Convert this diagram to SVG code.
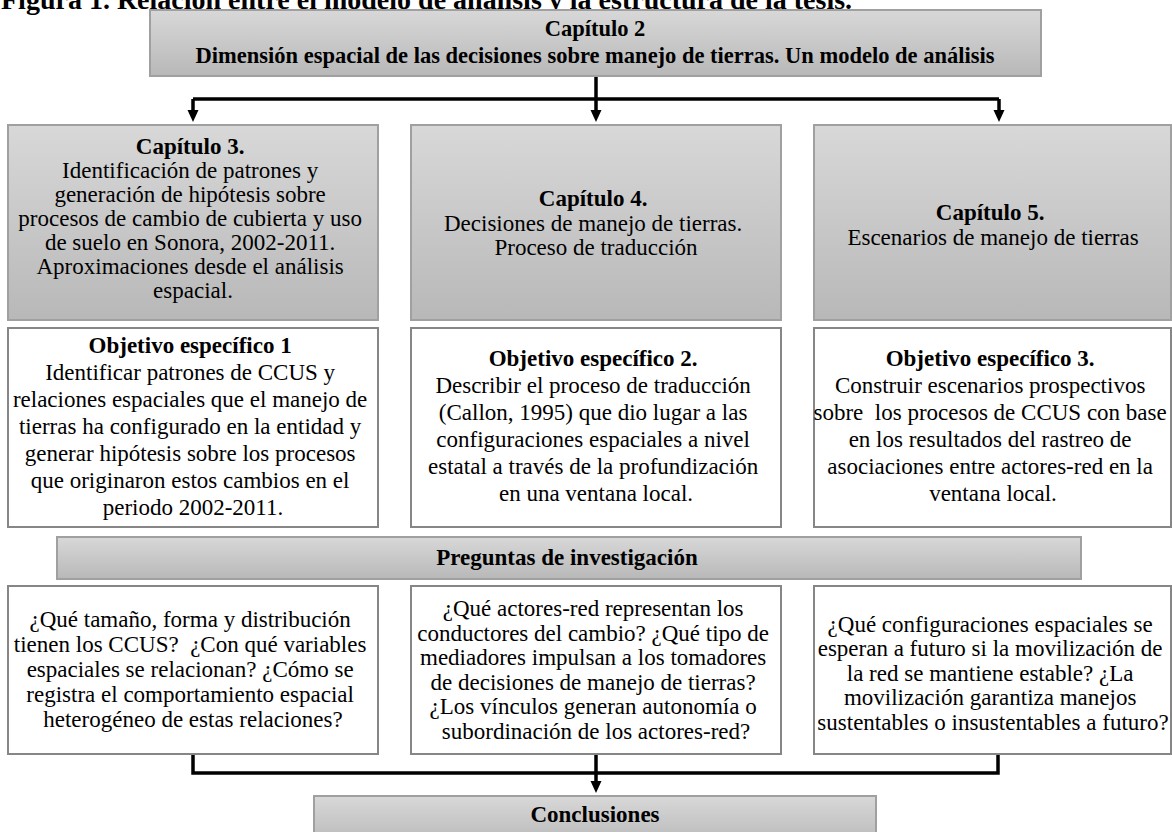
<svg xmlns="http://www.w3.org/2000/svg" width="1172" height="832" viewBox="0 0 1172 832">
<style>
.t{font-family:"Liberation Serif","Times New Roman",serif;font-size:23px;fill:#000;text-anchor:middle}
.b{font-weight:bold}
.g{fill:url(#grad);stroke:#a0a0a0;stroke-width:2}
.w{fill:#fff;stroke:#868686;stroke-width:2}
.c{fill:none;stroke:#000;stroke-width:3.5;stroke-linejoin:miter}
.a{marker-end:url(#ah)}
</style>
<defs>
<linearGradient id="grad" x1="0" y1="0" x2="0" y2="1">
<stop offset="0" stop-color="#d8d8d8"/>
<stop offset="1" stop-color="#b8b8b8"/>
</linearGradient>
<marker id="ah" markerUnits="userSpaceOnUse" markerWidth="12" markerHeight="12" viewBox="0 0 12 12" refX="0" refY="6" orient="auto">
<path d="M0,0.5 L12,6 L0,11.5 z" fill="#000"/>
</marker>
</defs>
<rect width="1172" height="832" fill="#fff"/>
<text class="t b" x="1" y="9" style="text-anchor:start;font-size:28px">Figura 1. Relación entre el modelo de análisis y la estructura de la tesis.</text>

<g id="connectors">
<path class="c a" d="M596,76 V110"/>
<path class="c" d="M193,99 H999"/>
<path class="c a" d="M193,99 V110"/>
<path class="c a" d="M999,99 V110"/>
<path class="c" d="M193,754 V773 H998 V754"/>
<path class="c a" d="M596,754 V781"/>
</g>

<g id="cap2">
<rect class="g" x="150" y="10" width="891" height="66"/>
<text class="t b" style="font-size:22.5px" x="595" y="36">Capítulo 2</text>
<text class="t b" style="font-size:22.5px" x="595" y="63">Dimensión espacial de las decisiones sobre manejo de tierras. Un modelo de análisis</text>
</g>

<g id="cap3">
<rect class="g" x="8" y="125" width="370" height="195"/>
<text class="t" x="193">
<tspan class="b" x="193" y="154">Capítulo 3.</tspan>
<tspan x="193" y="178">Identificación de patrones y</tspan>
<tspan x="193" y="202">generación de hipótesis sobre</tspan>
<tspan x="193" y="226">procesos de cambio de cubierta y uso</tspan>
<tspan x="193" y="250">de suelo en Sonora, 2002-2011.</tspan>
<tspan x="193" y="274">Aproximaciones desde el análisis</tspan>
<tspan x="193" y="298">espacial.</tspan>
</text>
</g>

<g id="cap4">
<rect class="g" x="411" y="125" width="370" height="195"/>
<text class="t" x="596">
<tspan class="b" x="596" y="206">Capítulo 4.</tspan>
<tspan x="596" y="230.5">Decisiones de manejo de tierras.</tspan>
<tspan x="596" y="255">Proceso de traducción</tspan>
</text>
</g>

<g id="cap5">
<rect class="g" x="814" y="125" width="357" height="195"/>
<text class="t" x="993">
<tspan class="b" x="993" y="220">Capítulo 5.</tspan>
<tspan x="993" y="244.5">Escenarios de manejo de tierras</tspan>
</text>
</g>

<g id="obj1">
<rect class="w" x="8" y="328" width="370" height="199"/>
<text class="t" x="193">
<tspan class="b" x="193" y="353">Objetivo específico 1</tspan>
<tspan x="193" y="380">Identificar patrones de CCUS y</tspan>
<tspan x="193" y="407">relaciones espaciales que el manejo de</tspan>
<tspan x="193" y="434">tierras ha configurado en la entidad y</tspan>
<tspan x="193" y="461">generar hipótesis sobre los procesos</tspan>
<tspan x="193" y="488">que originaron estos cambios en el</tspan>
<tspan x="193" y="515">periodo 2002-2011.</tspan>
</text>
</g>

<g id="obj2">
<rect class="w" x="411" y="328" width="370" height="199"/>
<text class="t" x="596">
<tspan class="b" x="596" y="366">Objetivo específico 2.</tspan>
<tspan x="596" y="393">Describir el proceso de traducción</tspan>
<tspan x="596" y="420">(Callon, 1995) que dio lugar a las</tspan>
<tspan x="596" y="447">configuraciones espaciales a nivel</tspan>
<tspan x="596" y="474">estatal a través de la profundización</tspan>
<tspan x="596" y="501">en una ventana local.</tspan>
</text>
</g>

<g id="obj3">
<rect class="w" x="814" y="328" width="357" height="199"/>
<text class="t" x="993">
<tspan class="b" x="993" y="366">Objetivo específico 3.</tspan>
<tspan x="993" y="393">Construir escenarios prospectivos</tspan>
<tspan x="993" y="420">sobre&#160; los procesos de CCUS con base</tspan>
<tspan x="993" y="447">en los resultados del rastreo de</tspan>
<tspan x="993" y="474">asociaciones entre actores-red en la</tspan>
<tspan x="993" y="501">ventana local.</tspan>
</text>
</g>

<g id="preguntas">
<rect class="g" x="57" y="537" width="1024" height="42"/>
<text class="t b" x="567" y="565">Preguntas de investigación</text>
</g>

<g id="q1">
<rect class="w" x="8" y="586" width="370" height="168"/>
<text class="t" x="193">
<tspan x="193" y="627">¿Qué tamaño, forma y distribución</tspan>
<tspan x="193" y="652">tienen los CCUS?&#160; ¿Con qué variables</tspan>
<tspan x="193" y="677">espaciales se relacionan? ¿Cómo se</tspan>
<tspan x="193" y="702">registra el comportamiento espacial</tspan>
<tspan x="193" y="727">heterogéneo de estas relaciones?</tspan>
</text>
</g>

<g id="q2">
<rect class="w" x="411" y="586" width="370" height="168"/>
<text class="t" x="596">
<tspan x="596" y="616">¿Qué actores-red representan los</tspan>
<tspan x="596" y="640.5">conductores del cambio? ¿Qué tipo de</tspan>
<tspan x="596" y="665">mediadores impulsan a los tomadores</tspan>
<tspan x="596" y="689.5">de decisiones de manejo de tierras?</tspan>
<tspan x="596" y="714">¿Los vínculos generan autonomía o</tspan>
<tspan x="596" y="738.5">subordinación de los actores-red?</tspan>
</text>
</g>

<g id="q3">
<rect class="w" x="814" y="586" width="357" height="168"/>
<text class="t" x="993">
<tspan x="993" y="631.5">¿Qué configuraciones espaciales se</tspan>
<tspan x="993" y="656">esperan a futuro si la movilización de</tspan>
<tspan x="993" y="680.5">la red se mantiene estable? ¿La</tspan>
<tspan x="993" y="705">movilización garantiza manejos</tspan>
<tspan x="993" y="729.5">sustentables o insustentables a futuro?</tspan>
</text>
</g>

<g id="conclusiones">
<rect class="g" x="314" y="796" width="562" height="50"/>
<text class="t b" x="595" y="822">Conclusiones</text>
</g>
</svg>
